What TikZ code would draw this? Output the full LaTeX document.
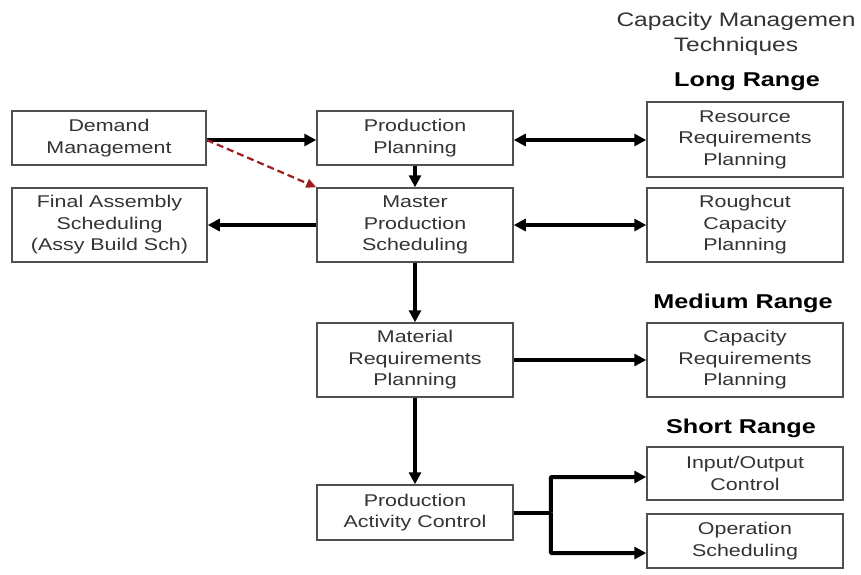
\documentclass[tikz,border=0pt]{standalone}
\usepackage{fontspec}
\setmainfont{Liberation Sans}[FakeStretch=1.26]
\usetikzlibrary{arrows.meta,calc}
\definecolor{boxline}{HTML}{505050}
\definecolor{boxtext}{HTML}{333333}
\definecolor{dashred}{HTML}{A01C1C}
\begin{document}
\begin{tikzpicture}[x=1pt,y=-1pt,
  box/.style={draw=boxline,line width=1.5pt,fill=white,align=center,
    text=boxtext,font=\fontsize{17}{21.5}\selectfont,inner sep=0pt},
  flow/.style={line width=4pt,-{Triangle[length=12pt,width=12pt]}},
  both/.style={line width=4pt,{Triangle[length=12pt,width=12pt]}-{Triangle[length=12pt,width=12pt]}},
  feed/.style={draw=dashred,line width=2.2pt,dash pattern=on 7pt off 4pt,
    -{Triangle[length=10pt,width=9pt]},dashred},
  rangelabel/.style={font=\fontsize{20}{24}\selectfont\bfseries,text=black},
  titlelabel/.style={font=\fontsize{19.5}{25}\selectfont,text=boxtext,align=center}]
  % canvas
  \fill[white] (0,0) rectangle (861,574);
  \useasboundingbox (0,0) rectangle (861,574);

  % left column and centre column
  \node[box,minimum width=194pt,minimum height=54pt] (dm) at (109,138) {Demand\\Management};
  \node[box,minimum width=196pt,minimum height=54pt] (pp) at (415,138) {Production\\Planning};
  \node[box,minimum width=195pt,minimum height=74pt] (fas) at (109.5,225) {Final Assembly\\Scheduling\\(Assy Build Sch)};
  \node[box,minimum width=196pt,minimum height=74pt] (mps) at (415,225) {Master\\Production\\Scheduling};
  \node[box,minimum width=196pt,minimum height=74pt] (mrp) at (415,360) {Material\\Requirements\\Planning};
  \node[box,minimum width=196pt,minimum height=55pt] (pac) at (415,512.5) {Production\\Activity Control};

  % capacity management column
  \node[titlelabel] (title) at (736,34) {Capacity Managemen\\Techniques};
  \node[rangelabel] (long) at (747,82) {Long Range};
  \node[box,minimum width=196pt,minimum height=75pt] (rrp) at (745,139.5) {Resource\\Requirements\\Planning};
  \node[box,minimum width=196pt,minimum height=74pt] (rcp) at (745,225) {Roughcut\\Capacity\\Planning};
  \node[rangelabel] (medium) at (743,303) {Medium Range};
  \node[box,minimum width=196pt,minimum height=74pt] (crp) at (745,360) {Capacity\\Requirements\\Planning};
  \node[rangelabel] (short) at (741,428) {Short Range};
  \node[box,minimum width=196pt,minimum height=53pt] (ioc) at (745,473.5) {Input/Output\\Control};
  \node[box,minimum width=196pt,minimum height=54pt] (ops) at (745,541) {Operation\\Scheduling};

  % connectors
  \draw[flow] ($(dm.east)+(0,2)$) -- ($(pp.west)+(0,2)$);
  \draw[feed] ($(dm.east)+(0,2)$) -- (mps.north west);
  \draw[flow] (pp.south) -- (mps.north);
  \draw[both] ($(pp.east)+(0,2)$) -- ($(pp.east -| rrp.west)+(0,2)$);
  \draw[both] (mps.east) -- (rcp.west);
  \draw[flow] (mps.west) -- (fas.east);
  \draw[flow] (mps.south) -- (mrp.north);
  \draw[flow] (mrp.east) -- (crp.west);
  \draw[flow] (mrp.south) -- (pac.north);

  % split from production activity control to the short range techniques
  \coordinate (split) at ($(pac.east)+(37,0)$);
  \coordinate (upper) at ($(ioc.west)+(0,3.5)$);
  \coordinate (lower) at ($(ops.west)+(0,12)$);
  \draw[line width=4pt] (pac.east) -- (split);
  \draw[flow,rounded corners=1pt] (split) |- (upper);
  \draw[flow,rounded corners=1pt] (split) |- (lower);
\end{tikzpicture}
\end{document}
